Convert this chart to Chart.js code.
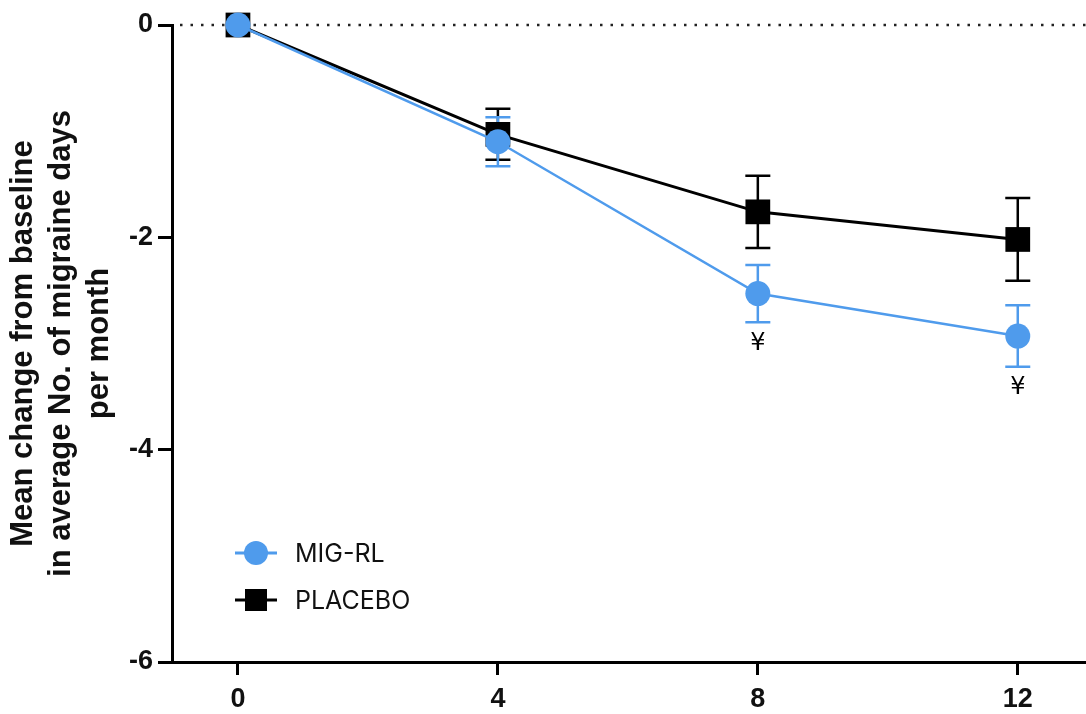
<!DOCTYPE html>
<html>
<head>
<meta charset="utf-8">
<script src="https://cdn.jsdelivr.net/npm/chart.js@4.4.1/dist/chart.umd.min.js"></script>
<style>
  body { margin: 0; background: #fff; }
  #wrap { width: 1086px; height: 714px; }
</style>
</head>
<body>
<div id="wrap"><canvas id="chart" width="1086" height="714"></canvas></div>
<script>
// weeks
let weeks = [0, 4, 8, 12];
let yTicks = [0, -2, -4, -6];

// mean change and error (SEM)
let migMean = [0, -1.1, -2.53, -2.93];
let migErr = [0, 0.23, 0.27, 0.29];
let placeboMean = [0, -1.03, -1.76, -2.02];
let placeboErr = [0, 0.24, 0.34, 0.39];

// significance marks under MIG-RL
let sigMarks = ["", "", "¥", "¥"];

let migColor = "#4f9bec";
let placeboColor = "#000000";

function toPoints(means) {
  return weeks.map(function (w, i) { return { x: w, y: means[i] }; });
}

// error bars, zero line, significance marks and legend
let extrasPlugin = {
  id: "extras",
  beforeDatasetsDraw: function (chart) {
    let c = chart.ctx;
    let xs = chart.scales.x;
    let ys = chart.scales.y;
    // dotted line at 0
    c.save();
    c.strokeStyle = "#222";
    c.lineWidth = 2.5;
    c.setLineDash([2.5, 8]);
    c.beginPath();
    c.moveTo(chart.chartArea.left + 8, ys.getPixelForValue(0));
    c.lineTo(chart.width, ys.getPixelForValue(0));
    c.stroke();
    c.restore();

    // error bars
    let sets = [
      { mean: placeboMean, err: placeboErr, color: placeboColor, w: 2.5 },
      { mean: migMean, err: migErr, color: migColor, w: 2.5 },
    ];
    sets.forEach(function (s) {
      c.save();
      c.strokeStyle = s.color;
      c.lineWidth = s.w;
      weeks.forEach(function (wk, i) {
        if (s.err[i] == 0) return;
        let px = xs.getPixelForValue(wk);
        let top = ys.getPixelForValue(s.mean[i] + s.err[i]);
        let bot = ys.getPixelForValue(s.mean[i] - s.err[i]);
        c.beginPath();
        c.moveTo(px, top); c.lineTo(px, bot);
        c.moveTo(px - 12.5, top); c.lineTo(px + 12.5, top);
        c.moveTo(px - 12.5, bot); c.lineTo(px + 12.5, bot);
        c.stroke();
      });
      c.restore();
    });
  },
  afterDatasetsDraw: function (chart) {
    let c = chart.ctx;
    let xs = chart.scales.x;
    let ys = chart.scales.y;
    c.save();
    c.fillStyle = "#000";
    c.font = "24px 'DejaVu Sans', sans-serif";
    c.textAlign = "center";
    c.textBaseline = "middle";
    weeks.forEach(function (wk, i) {
      if (!sigMarks[i]) return;
      let px = xs.getPixelForValue(wk);
      let py = ys.getPixelForValue(migMean[i] - migErr[i]);
      c.fillText(sigMarks[i], px, py + 21);
    });
    c.restore();

    // legend
    let lx = chart.chartArea.left + 63;
    let items = [
      { label: "MIG-RL", color: migColor, shape: "circle", y: 553 },
      { label: "PLACEBO", color: placeboColor, shape: "square", y: 600 },
    ];
    items.forEach(function (it) {
      c.save();
      c.strokeStyle = it.color;
      c.fillStyle = it.color;
      c.lineWidth = 3;
      c.beginPath();
      c.moveTo(lx, it.y); c.lineTo(lx + 42, it.y);
      c.stroke();
      if (it.shape == "circle") {
        c.beginPath();
        c.arc(lx + 21, it.y, 12, 0, Math.PI * 2);
        c.fill();
      } else {
        c.fillRect(lx + 10, it.y - 11, 22, 22);
      }
      c.fillStyle = "#111";
      c.font = "25px Inter, Roboto, sans-serif";
      c.textAlign = "left";
      c.textBaseline = "middle";
      c.fillText(it.label, lx + 60, it.y + 1);
      c.restore();
    });
  },
};

let tickFont = { family: "Arial, 'Liberation Sans', sans-serif", size: 27, weight: "bold" };

let chart = new Chart(document.getElementById("chart"), {
  type: "line",
  data: {
    datasets: [
      {
        label: "MIG-RL",
        data: toPoints(migMean),
        borderColor: migColor,
        backgroundColor: migColor,
        borderWidth: 2.5,
        pointStyle: "circle",
        pointRadius: 12.5,
        pointBorderWidth: 0,
        pointHoverRadius: 12.5,
        clip: false,
        order: 0,
      },
      {
        label: "PLACEBO",
        data: toPoints(placeboMean),
        borderColor: placeboColor,
        backgroundColor: placeboColor,
        borderWidth: 3,
        pointStyle: "rect",
        pointRadius: 17.5,
        pointBorderWidth: 0,
        pointHoverRadius: 17.5,
        clip: false,
        order: 1,
      },
    ],
  },
  options: {
    responsive: false,
    animation: false,
    layout: { autoPadding: false, padding: { top: 25, right: 0, left: 0, bottom: 0 } },
    plugins: { legend: { display: false }, tooltip: { enabled: false } },
    scales: {
      x: {
        type: "linear",
        min: -1.015,
        max: 13.05,
        afterBuildTicks: function (scale) {
          scale.ticks = weeks.map(function (v) { return { value: v }; });
        },
        afterFit: function (scale) { scale.height = 52; },
        border: { display: true, color: "#000", width: 3 },
        grid: { drawOnChartArea: false, drawTicks: true, tickLength: 13, tickWidth: 3, tickColor: "#000" },
        ticks: { color: "#111", padding: 8, font: tickFont },
      },
      y: {
        min: -6,
        max: 0,
        afterBuildTicks: function (scale) {
          scale.ticks = yTicks.map(function (v) { return { value: v }; });
        },
        afterFit: function (scale) { scale.width = 172; },
        border: { display: true, color: "#000", width: 3 },
        grid: { drawOnChartArea: false, drawTicks: true, tickLength: 14, tickWidth: 3, tickColor: "#000" },
        ticks: { color: "#111", padding: 5, font: tickFont },
        title: {
          display: true,
          text: ["Mean change from baseline", "in average No. of migraine days", "per month"],
          color: "#111",
          font: { family: "Arial, 'Liberation Sans', sans-serif", size: 31, weight: "bold", lineHeight: 1.22 },
          padding: { top: 5, bottom: 0 },
        },
      },
    },
  },
  plugins: [extrasPlugin],
});
</script>
</body>
</html>
